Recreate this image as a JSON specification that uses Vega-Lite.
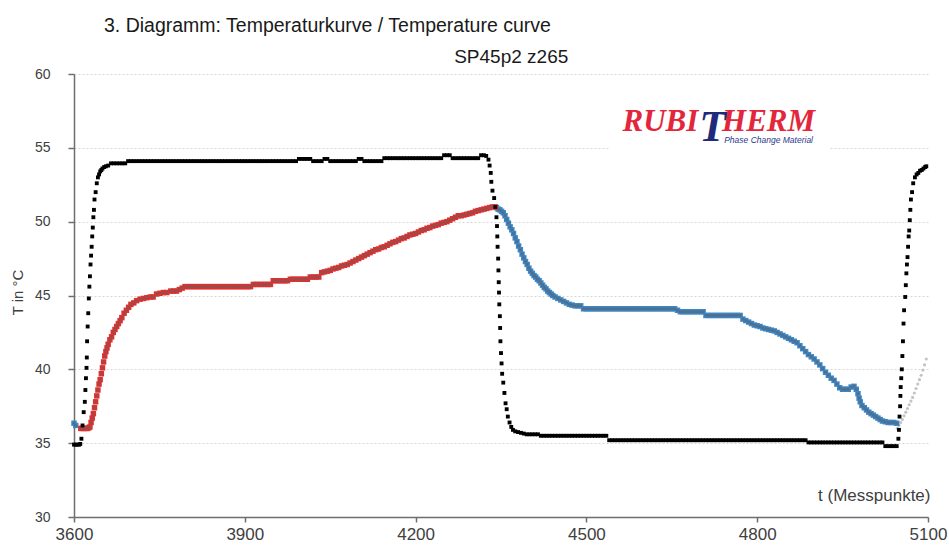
{
"$schema":"https://vega.github.io/schema/vega-lite/v6.json",
"width":854,"height":443,
"autosize":"none",
"padding":{"left":74,"top":74,"right":21,"bottom":29},
"background":"#ffffff",
"title":{"text":"3. Diagramm: Temperaturkurve / Temperature curve","anchor":"start","frame":"group","dx":30,"offset":12,"fontSize":19.5,"font":"Liberation Sans","fontWeight":"normal","color":"#1a1a1a"},
"config":{"view":{"stroke":null},
"axisX":{"format":"d","grid":false,"domainColor":"#6e6e6e","domainWidth":1.5,"tickColor":"#6e6e6e","tickWidth":1.5,"tickSize":5,"labelPadding":4,"labelFont":"Liberation Sans","labelFontSize":17,"labelFontWeight":"normal","labelColor":"#404040","labelFlush":false,"titleX":856,"titleY":-17,"titleAlign":"right","titleAnchor":"end","titleBaseline":"alphabetic","titleFont":"Liberation Sans","titleFontSize":17,"titleFontWeight":"normal","titleColor":"#404040"},
"axisY":{"grid":true,"gridColor":"#d6d6d6","gridDash":[2,2],"gridWidth":1,"domainColor":"#6e6e6e","domainWidth":1.5,"tickColor":"#6e6e6e","tickWidth":1.5,"tickSize":6,"labelPadding":18,"labelFont":"Liberation Sans","labelFontSize":14,"labelColor":"#404040","titleX":-57,"titleY":218,"titleAngle":-90,"titleAlign":"center","titleBaseline":"middle","titleFont":"Liberation Sans","titleFontSize":15,"titleFontWeight":"normal","titleColor":"#404040"}
},
"datasets":{
"black":[
{"t":3600,"v":34.9},{"t":3603,"v":34.9},{"t":3606,"v":34.9},{"t":3609,"v":34.9},{"t":3611,"v":34.95},{"t":3613,"v":35.3},{"t":3615,"v":36.2},{"t":3617,"v":37.1},{"t":3619,"v":37.8},{"t":3620,"v":38.6},{"t":3621,"v":39.4},{"t":3622,"v":40.1},{"t":3622.5,"v":40.8},{"t":3623,"v":41.9},{"t":3624,"v":42.9},{"t":3625,"v":43.8},{"t":3626,"v":44.8},{"t":3627,"v":45.6},{"t":3628,"v":46.3},{"t":3629,"v":47.1},{"t":3630,"v":47.7},{"t":3631,"v":48.3},{"t":3632,"v":49.0},{"t":3633,"v":49.6},{"t":3634,"v":50.3},{"t":3635,"v":50.8},{"t":3636,"v":51.5},{"t":3638,"v":52.0},{"t":3640,"v":52.6},{"t":3642,"v":53.0},{"t":3644,"v":53.2},{"t":3646,"v":53.4},{"t":3648,"v":53.5},{"t":3650,"v":53.6},{"t":3653,"v":53.7},{"t":3656,"v":53.75},{"t":3660,"v":53.8},
{"t":3665,"v":53.95},{"t":3670,"v":53.95},{"t":3675,"v":53.95},{"t":3680,"v":53.95},{"t":3685,"v":53.95},{"t":3690,"v":53.95},
{"t":3695,"v":54.1},{"t":3700,"v":54.1},{"t":3705,"v":54.1},{"t":3710,"v":54.1},{"t":3715,"v":54.1},{"t":3720,"v":54.1},{"t":3725,"v":54.1},{"t":3730,"v":54.1},{"t":3735,"v":54.1},{"t":3740,"v":54.1},{"t":3745,"v":54.1},{"t":3750,"v":54.1},{"t":3755,"v":54.1},{"t":3760,"v":54.1},{"t":3765,"v":54.1},{"t":3770,"v":54.1},{"t":3775,"v":54.1},{"t":3780,"v":54.1},{"t":3785,"v":54.1},{"t":3790,"v":54.1},{"t":3795,"v":54.1},{"t":3800,"v":54.1},{"t":3805,"v":54.1},{"t":3810,"v":54.1},{"t":3815,"v":54.1},{"t":3820,"v":54.1},{"t":3825,"v":54.1},{"t":3830,"v":54.1},{"t":3835,"v":54.1},{"t":3840,"v":54.1},{"t":3845,"v":54.1},{"t":3850,"v":54.1},{"t":3855,"v":54.1},{"t":3860,"v":54.1},{"t":3865,"v":54.1},{"t":3870,"v":54.1},{"t":3875,"v":54.1},{"t":3880,"v":54.1},{"t":3885,"v":54.1},{"t":3890,"v":54.1},{"t":3895,"v":54.1},{"t":3900,"v":54.1},{"t":3905,"v":54.1},{"t":3910,"v":54.1},{"t":3915,"v":54.1},{"t":3920,"v":54.1},{"t":3925,"v":54.1},{"t":3930,"v":54.1},{"t":3935,"v":54.1},{"t":3940,"v":54.1},{"t":3945,"v":54.1},{"t":3950,"v":54.1},{"t":3955,"v":54.1},{"t":3960,"v":54.1},{"t":3965,"v":54.1},{"t":3970,"v":54.1},{"t":3975,"v":54.1},{"t":3980,"v":54.1},{"t":3985,"v":54.1},{"t":3990,"v":54.1},
{"t":3995,"v":54.25},{"t":4000,"v":54.25},{"t":4005,"v":54.25},{"t":4010,"v":54.25},{"t":4015,"v":54.25},
{"t":4020,"v":54.1},{"t":4025,"v":54.1},{"t":4030,"v":54.1},{"t":4035,"v":54.1},
{"t":4040,"v":54.25},{"t":4045,"v":54.25},
{"t":4050,"v":54.1},{"t":4055,"v":54.1},{"t":4060,"v":54.1},{"t":4065,"v":54.1},{"t":4070,"v":54.1},{"t":4075,"v":54.1},{"t":4080,"v":54.1},{"t":4085,"v":54.1},{"t":4090,"v":54.1},{"t":4095,"v":54.1},
{"t":4100,"v":54.25},{"t":4105,"v":54.25},
{"t":4110,"v":54.1},{"t":4115,"v":54.1},{"t":4120,"v":54.1},{"t":4125,"v":54.1},{"t":4130,"v":54.1},{"t":4135,"v":54.1},{"t":4140,"v":54.1},
{"t":4145,"v":54.3},{"t":4150,"v":54.3},{"t":4155,"v":54.3},{"t":4160,"v":54.3},{"t":4165,"v":54.3},{"t":4170,"v":54.3},{"t":4175,"v":54.3},{"t":4180,"v":54.3},{"t":4185,"v":54.3},{"t":4190,"v":54.3},{"t":4195,"v":54.3},{"t":4200,"v":54.3},{"t":4205,"v":54.3},{"t":4210,"v":54.3},{"t":4215,"v":54.3},{"t":4220,"v":54.3},{"t":4225,"v":54.3},{"t":4230,"v":54.3},{"t":4235,"v":54.3},{"t":4240,"v":54.3},{"t":4245,"v":54.3},
{"t":4250,"v":54.5},{"t":4255,"v":54.5},{"t":4260,"v":54.5},
{"t":4265,"v":54.3},{"t":4270,"v":54.3},{"t":4275,"v":54.3},{"t":4280,"v":54.3},{"t":4285,"v":54.3},{"t":4290,"v":54.3},{"t":4295,"v":54.3},{"t":4300,"v":54.3},{"t":4305,"v":54.3},{"t":4310,"v":54.3},
{"t":4315,"v":54.5},{"t":4320,"v":54.5},{"t":4324,"v":54.45},
{"t":4328,"v":54.2},{"t":4330,"v":53.8},{"t":4332,"v":53.3},{"t":4333,"v":52.7},{"t":4335,"v":52.1},{"t":4338,"v":51.6},{"t":4340,"v":51.0},{"t":4342,"v":50.3},{"t":4343,"v":49.7},{"t":4343.5,"v":49.0},{"t":4344,"v":48.3},{"t":4345,"v":47.5},{"t":4345.5,"v":46.7},{"t":4346,"v":45.9},{"t":4346.5,"v":45.2},{"t":4347,"v":44.4},{"t":4348,"v":43.6},{"t":4348.5,"v":42.8},{"t":4349,"v":41.9},{"t":4350,"v":41.1},{"t":4351,"v":40.4},{"t":4352,"v":39.7},{"t":4354,"v":39.1},{"t":4356,"v":38.4},{"t":4358,"v":37.7},{"t":4360,"v":37.3},{"t":4362,"v":36.8},{"t":4365,"v":36.4},{"t":4368,"v":36.1},{"t":4371,"v":35.9},{"t":4375,"v":35.8},{"t":4380,"v":35.75},{"t":4385,"v":35.7},{"t":4390,"v":35.65},
{"t":4395,"v":35.6},{"t":4400,"v":35.6},{"t":4405,"v":35.6},{"t":4410,"v":35.6},{"t":4415,"v":35.6},
{"t":4420,"v":35.5},{"t":4425,"v":35.5},{"t":4430,"v":35.5},{"t":4435,"v":35.5},{"t":4440,"v":35.5},{"t":4445,"v":35.5},{"t":4450,"v":35.5},{"t":4455,"v":35.5},{"t":4460,"v":35.5},{"t":4465,"v":35.5},{"t":4470,"v":35.5},{"t":4475,"v":35.5},{"t":4480,"v":35.5},{"t":4485,"v":35.5},{"t":4490,"v":35.5},{"t":4495,"v":35.5},{"t":4500,"v":35.5},{"t":4505,"v":35.5},{"t":4510,"v":35.5},{"t":4515,"v":35.5},{"t":4520,"v":35.5},{"t":4525,"v":35.5},{"t":4530,"v":35.5},{"t":4535,"v":35.5},
{"t":4540,"v":35.2},{"t":4545,"v":35.2},{"t":4550,"v":35.2},{"t":4555,"v":35.2},{"t":4560,"v":35.2},{"t":4565,"v":35.2},{"t":4570,"v":35.2},{"t":4575,"v":35.2},{"t":4580,"v":35.2},{"t":4585,"v":35.2},{"t":4590,"v":35.2},{"t":4595,"v":35.2},{"t":4600,"v":35.2},{"t":4605,"v":35.2},{"t":4610,"v":35.2},{"t":4615,"v":35.2},{"t":4620,"v":35.2},{"t":4625,"v":35.2},{"t":4630,"v":35.2},{"t":4635,"v":35.2},{"t":4640,"v":35.2},{"t":4645,"v":35.2},{"t":4650,"v":35.2},{"t":4655,"v":35.2},{"t":4660,"v":35.2},{"t":4665,"v":35.2},{"t":4670,"v":35.2},{"t":4675,"v":35.2},{"t":4680,"v":35.2},{"t":4685,"v":35.2},{"t":4690,"v":35.2},{"t":4695,"v":35.2},{"t":4700,"v":35.2},{"t":4705,"v":35.2},{"t":4710,"v":35.2},{"t":4715,"v":35.2},{"t":4720,"v":35.2},{"t":4725,"v":35.2},{"t":4730,"v":35.2},{"t":4735,"v":35.2},{"t":4740,"v":35.2},{"t":4745,"v":35.2},{"t":4750,"v":35.2},{"t":4755,"v":35.2},{"t":4760,"v":35.2},{"t":4765,"v":35.2},{"t":4770,"v":35.2},{"t":4775,"v":35.2},{"t":4780,"v":35.2},{"t":4785,"v":35.2},{"t":4790,"v":35.2},{"t":4795,"v":35.2},{"t":4800,"v":35.2},{"t":4805,"v":35.2},{"t":4810,"v":35.2},{"t":4815,"v":35.2},{"t":4820,"v":35.2},{"t":4825,"v":35.2},{"t":4830,"v":35.2},{"t":4835,"v":35.2},{"t":4840,"v":35.2},{"t":4845,"v":35.2},{"t":4850,"v":35.2},{"t":4855,"v":35.2},{"t":4860,"v":35.2},{"t":4865,"v":35.2},{"t":4870,"v":35.2},{"t":4875,"v":35.2},{"t":4880,"v":35.2},{"t":4885,"v":35.2},
{"t":4890,"v":35.05},{"t":4895,"v":35.05},{"t":4900,"v":35.05},{"t":4905,"v":35.05},{"t":4910,"v":35.05},{"t":4915,"v":35.05},{"t":4920,"v":35.05},{"t":4925,"v":35.05},{"t":4930,"v":35.05},{"t":4935,"v":35.05},{"t":4940,"v":35.05},{"t":4945,"v":35.05},{"t":4950,"v":35.05},{"t":4955,"v":35.05},{"t":4960,"v":35.05},{"t":4965,"v":35.05},{"t":4970,"v":35.05},{"t":4975,"v":35.05},{"t":4980,"v":35.05},{"t":4985,"v":35.05},{"t":4990,"v":35.05},{"t":4995,"v":35.05},{"t":5000,"v":35.05},{"t":5005,"v":35.05},{"t":5010,"v":35.05},{"t":5015,"v":35.05},{"t":5020,"v":35.05},
{"t":5025,"v":34.8},{"t":5030,"v":34.8},{"t":5035,"v":34.8},{"t":5040,"v":34.8},{"t":5045,"v":34.8},
{"t":5048,"v":35.3},{"t":5049,"v":35.9},{"t":5050,"v":36.8},{"t":5051,"v":37.5},{"t":5051.5,"v":38.2},{"t":5052,"v":38.8},{"t":5053,"v":39.4},{"t":5054,"v":40.0},{"t":5055,"v":40.9},{"t":5056,"v":41.9},{"t":5057,"v":43.1},{"t":5058,"v":44.0},{"t":5060,"v":44.9},{"t":5061,"v":45.7},{"t":5062,"v":46.5},{"t":5063,"v":47.1},{"t":5064,"v":47.6},{"t":5065,"v":48.3},{"t":5066,"v":49.0},{"t":5067,"v":49.4},{"t":5068,"v":50.1},{"t":5069,"v":50.8},{"t":5070,"v":51.5},{"t":5072,"v":52.0},{"t":5074,"v":52.6},{"t":5077,"v":53.0},{"t":5080,"v":53.2},{"t":5083,"v":53.3},{"t":5086,"v":53.45},{"t":5089,"v":53.5},{"t":5092,"v":53.6},{"t":5095,"v":53.7},{"t":5097,"v":53.75}
],
"red":[
{"t":3612,"v":36.0},{"t":3615,"v":36.0},{"t":3618,"v":36.0},{"t":3621,"v":36.0},{"t":3624,"v":36.0},{"t":3626,"v":36.05},{"t":3628,"v":36.1},{"t":3630,"v":36.4},{"t":3632,"v":36.7},{"t":3634,"v":37.0},{"t":3636,"v":37.4},{"t":3638,"v":37.8},{"t":3640,"v":38.2},{"t":3642,"v":38.6},{"t":3644,"v":39.0},{"t":3646,"v":39.3},{"t":3648,"v":39.7},{"t":3650,"v":40.1},{"t":3652,"v":40.5},{"t":3654,"v":40.9},{"t":3656,"v":41.2},{"t":3658,"v":41.45},{"t":3660,"v":41.7},{"t":3663,"v":42.0},{"t":3666,"v":42.2},{"t":3669,"v":42.5},{"t":3672,"v":42.7},{"t":3675,"v":42.9},{"t":3678,"v":43.1},{"t":3681,"v":43.3},{"t":3684,"v":43.5},{"t":3688,"v":43.8},{"t":3692,"v":44.0},{"t":3696,"v":44.2},{"t":3700,"v":44.4},{"t":3705,"v":44.5},{"t":3710,"v":44.65},{"t":3716,"v":44.75},{"t":3722,"v":44.8},{"t":3728,"v":44.85},{"t":3734,"v":44.9},{"t":3739,"v":44.9},{"t":3745,"v":45.1},{"t":3751,"v":45.15},{"t":3757,"v":45.2},{"t":3763,"v":45.2},{"t":3770,"v":45.3},{"t":3775,"v":45.3},{"t":3780,"v":45.3},{"t":3785,"v":45.4},{"t":3790,"v":45.5},
{"t":3795,"v":45.6},{"t":3800,"v":45.6},{"t":3805,"v":45.6},{"t":3810,"v":45.6},{"t":3815,"v":45.6},{"t":3820,"v":45.6},{"t":3825,"v":45.6},{"t":3830,"v":45.6},{"t":3835,"v":45.6},{"t":3840,"v":45.6},{"t":3845,"v":45.6},{"t":3850,"v":45.6},{"t":3855,"v":45.6},{"t":3860,"v":45.6},{"t":3865,"v":45.6},{"t":3870,"v":45.6},{"t":3875,"v":45.6},{"t":3880,"v":45.6},{"t":3885,"v":45.6},{"t":3890,"v":45.6},{"t":3895,"v":45.6},{"t":3900,"v":45.6},{"t":3905,"v":45.6},{"t":3910,"v":45.6},
{"t":3915,"v":45.75},{"t":3920,"v":45.75},{"t":3925,"v":45.75},{"t":3930,"v":45.75},{"t":3935,"v":45.75},{"t":3940,"v":45.75},{"t":3945,"v":45.75},
{"t":3950,"v":46.0},{"t":3955,"v":46.0},{"t":3960,"v":46.0},{"t":3965,"v":46.0},{"t":3970,"v":46.0},{"t":3975,"v":46.0},
{"t":3980,"v":46.1},{"t":3985,"v":46.1},{"t":3990,"v":46.1},{"t":3995,"v":46.1},{"t":4000,"v":46.1},{"t":4005,"v":46.1},{"t":4010,"v":46.1},
{"t":4015,"v":46.25},{"t":4020,"v":46.25},{"t":4025,"v":46.25},{"t":4030,"v":46.25},
{"t":4035,"v":46.55},{"t":4040,"v":46.6},{"t":4045,"v":46.65},{"t":4050,"v":46.7},{"t":4055,"v":46.8},{"t":4060,"v":46.85},{"t":4065,"v":46.9},{"t":4070,"v":47.0},{"t":4075,"v":47.05},{"t":4080,"v":47.1},{"t":4085,"v":47.2},{"t":4090,"v":47.3},{"t":4095,"v":47.4},{"t":4100,"v":47.5},{"t":4105,"v":47.6},{"t":4110,"v":47.7},{"t":4115,"v":47.8},{"t":4120,"v":47.9},{"t":4125,"v":48.0},{"t":4130,"v":48.1},{"t":4135,"v":48.15},{"t":4140,"v":48.25},{"t":4145,"v":48.3},{"t":4150,"v":48.4},{"t":4155,"v":48.5},{"t":4160,"v":48.6},{"t":4165,"v":48.65},{"t":4170,"v":48.75},{"t":4175,"v":48.85},{"t":4180,"v":48.9},{"t":4185,"v":49.0},{"t":4190,"v":49.1},{"t":4195,"v":49.15},{"t":4200,"v":49.2},{"t":4205,"v":49.3},{"t":4210,"v":49.4},{"t":4215,"v":49.45},{"t":4220,"v":49.55},{"t":4225,"v":49.6},{"t":4230,"v":49.7},{"t":4235,"v":49.75},{"t":4240,"v":49.8},{"t":4245,"v":49.9},{"t":4250,"v":49.95},{"t":4255,"v":50.0},{"t":4260,"v":50.1},{"t":4265,"v":50.2},{"t":4270,"v":50.3},{"t":4275,"v":50.4},{"t":4280,"v":50.4},{"t":4285,"v":50.45},{"t":4290,"v":50.5},{"t":4295,"v":50.55},{"t":4300,"v":50.6},{"t":4305,"v":50.7},{"t":4310,"v":50.75},{"t":4315,"v":50.8},{"t":4320,"v":50.85},{"t":4325,"v":50.9},{"t":4330,"v":50.95},{"t":4335,"v":51.0},{"t":4340,"v":51.0}
],
"blue":[
{"t":3600,"v":36.35},{"t":3603,"v":36.2},
{"t":4342,"v":50.95},{"t":4345,"v":50.85},{"t":4348,"v":50.8},{"t":4351,"v":50.7},{"t":4354,"v":50.6},{"t":4357,"v":50.4},{"t":4360,"v":50.15},{"t":4363,"v":49.9},{"t":4366,"v":49.65},{"t":4369,"v":49.45},{"t":4372,"v":49.2},{"t":4375,"v":48.9},{"t":4378,"v":48.65},{"t":4381,"v":48.35},{"t":4384,"v":48.1},{"t":4387,"v":47.8},{"t":4390,"v":47.55},{"t":4393,"v":47.3},{"t":4396,"v":47.1},{"t":4399,"v":46.85},{"t":4402,"v":46.65},{"t":4405,"v":46.5},{"t":4408,"v":46.35},{"t":4411,"v":46.25},{"t":4414,"v":46.1},{"t":4417,"v":46.0},{"t":4420,"v":45.85},{"t":4423,"v":45.7},{"t":4426,"v":45.55},{"t":4429,"v":45.45},{"t":4432,"v":45.3},{"t":4435,"v":45.2},{"t":4438,"v":45.1},{"t":4441,"v":45.0},{"t":4445,"v":44.9},{"t":4450,"v":44.8},{"t":4455,"v":44.7},{"t":4460,"v":44.6},{"t":4465,"v":44.5},{"t":4470,"v":44.4},{"t":4475,"v":44.35},{"t":4480,"v":44.3},{"t":4485,"v":44.3},{"t":4490,"v":44.3},{"t":4495,"v":44.1},
{"t":4500,"v":44.1},{"t":4505,"v":44.1},{"t":4510,"v":44.1},{"t":4515,"v":44.1},{"t":4520,"v":44.1},{"t":4525,"v":44.1},{"t":4530,"v":44.1},{"t":4535,"v":44.1},{"t":4540,"v":44.1},{"t":4545,"v":44.1},{"t":4550,"v":44.1},{"t":4555,"v":44.1},{"t":4560,"v":44.1},{"t":4565,"v":44.1},{"t":4570,"v":44.1},{"t":4575,"v":44.1},{"t":4580,"v":44.1},{"t":4585,"v":44.1},{"t":4590,"v":44.1},{"t":4595,"v":44.1},{"t":4600,"v":44.1},{"t":4605,"v":44.1},{"t":4610,"v":44.1},{"t":4615,"v":44.1},{"t":4620,"v":44.1},{"t":4625,"v":44.1},{"t":4630,"v":44.1},{"t":4635,"v":44.1},{"t":4640,"v":44.1},{"t":4645,"v":44.1},{"t":4650,"v":44.1},{"t":4655,"v":44.1},
{"t":4660,"v":44.0},
{"t":4665,"v":43.9},{"t":4670,"v":43.9},{"t":4675,"v":43.9},{"t":4680,"v":43.9},{"t":4685,"v":43.9},{"t":4690,"v":43.9},{"t":4695,"v":43.9},{"t":4700,"v":43.9},{"t":4705,"v":43.9},
{"t":4710,"v":43.65},{"t":4715,"v":43.65},{"t":4720,"v":43.65},{"t":4725,"v":43.65},{"t":4730,"v":43.65},{"t":4735,"v":43.65},{"t":4740,"v":43.65},{"t":4745,"v":43.65},{"t":4750,"v":43.65},{"t":4755,"v":43.65},{"t":4760,"v":43.65},{"t":4765,"v":43.65},{"t":4770,"v":43.65},
{"t":4775,"v":43.4},{"t":4780,"v":43.3},{"t":4785,"v":43.2},{"t":4790,"v":43.1},{"t":4795,"v":43.0},{"t":4800,"v":42.95},{"t":4805,"v":42.9},{"t":4810,"v":42.8},{"t":4815,"v":42.75},{"t":4820,"v":42.7},{"t":4825,"v":42.65},{"t":4830,"v":42.6},{"t":4835,"v":42.5},{"t":4840,"v":42.4},{"t":4845,"v":42.3},{"t":4850,"v":42.2},{"t":4855,"v":42.1},{"t":4860,"v":42.0},{"t":4865,"v":41.9},{"t":4870,"v":41.8},{"t":4875,"v":41.6},{"t":4880,"v":41.4},{"t":4885,"v":41.2},{"t":4890,"v":41.0},{"t":4895,"v":40.85},{"t":4900,"v":40.7},{"t":4905,"v":40.5},{"t":4910,"v":40.3},{"t":4915,"v":40.05},{"t":4920,"v":39.8},{"t":4925,"v":39.6},{"t":4930,"v":39.4},{"t":4935,"v":39.25},{"t":4940,"v":39.0},{"t":4945,"v":38.75},{"t":4950,"v":38.65},{"t":4955,"v":38.65},{"t":4960,"v":38.65},{"t":4965,"v":38.8},{"t":4970,"v":38.85},{"t":4974,"v":38.65},{"t":4977,"v":38.35},{"t":4979,"v":38.05},{"t":4981,"v":37.8},{"t":4984,"v":37.55},{"t":4988,"v":37.4},{"t":4992,"v":37.25},{"t":4996,"v":37.1},{"t":5000,"v":37.0},{"t":5004,"v":36.9},{"t":5008,"v":36.8},{"t":5012,"v":36.7},{"t":5016,"v":36.6},{"t":5020,"v":36.5},{"t":5025,"v":36.45},{"t":5030,"v":36.4},{"t":5035,"v":36.4},{"t":5040,"v":36.4},{"t":5045,"v":36.35}
],
"grey":[
{"t":5046,"v":36.0},{"t":5049,"v":36.2},{"t":5052,"v":36.4},{"t":5055,"v":36.6},{"t":5058,"v":36.85},{"t":5061,"v":37.1},{"t":5064,"v":37.35},{"t":5067,"v":37.6},{"t":5070,"v":37.85},{"t":5073,"v":38.1},{"t":5076,"v":38.4},{"t":5079,"v":38.7},{"t":5082,"v":39.0},{"t":5085,"v":39.3},{"t":5088,"v":39.6},{"t":5091,"v":39.95},{"t":5094,"v":40.3},{"t":5097,"v":40.7}
],
"notes":[
{"label":"SP45p2 z265"}
]
},
"layer":[
{"data":{"name":"notes"},"mark":{"type":"rect","color":"#ffffff"},
 "encoding":{"x":{"datum":4541,"type":"quantitative","scale":{"domain":[3600,5100],"nice":false,"zero":false},"title":"t (Messpunkte)","axis":{"values":[3600,3900,4200,4500,4800,5100]}},"x2":{"datum":4928},"y":{"datum":54.85,"type":"quantitative","scale":{"domain":[30,60],"nice":false,"zero":false},"title":"T in °C","axis":{"values":[30,35,40,45,50,55,60]}},"y2":{"datum":58.9}}},
{"encoding":{
"x":{"field":"t","type":"quantitative","scale":{"domain":[3600,5100],"nice":false,"zero":false},"title":"t (Messpunkte)","axis":{"values":[3600,3900,4200,4500,4800,5100]}},
"y":{"field":"v","type":"quantitative","scale":{"domain":[30,60],"nice":false,"zero":false},"title":"T in °C","axis":{"values":[30,35,40,45,50,55,60]}}
},
"layer":[
{"data":{"name":"grey"},"mark":{"type":"point","shape":"circle","filled":true,"size":10,"color":"#c4c4c4","opacity":1}},
{"data":{"name":"blue"},"mark":{"type":"point","shape":"square","filled":true,"size":30,"color":"#3d87c6","opacity":1}},
{"data":{"name":"blue"},"mark":{"type":"point","shape":"square","filled":true,"size":8,"color":"#4d7090","opacity":1}},
{"data":{"name":"red"},"mark":{"type":"point","shape":"square","filled":true,"size":30,"color":"#e03030","opacity":1}},
{"data":{"name":"red"},"mark":{"type":"point","shape":"square","filled":true,"size":8,"color":"#9e4a48","opacity":1}},
{"data":{"name":"black"},"mark":{"type":"point","shape":"square","filled":true,"size":15,"color":"#000000","opacity":1}}
]},
{"data":{"name":"notes"},"mark":{"type":"text","font":"Liberation Sans","fontSize":19,"color":"#1a1a1a","align":"center","baseline":"alphabetic","clip":false},
 "encoding":{"x":{"datum":4368,"type":"quantitative","scale":{"domain":[3600,5100],"nice":false,"zero":false},"title":"t (Messpunkte)","axis":{"values":[3600,3900,4200,4500,4800,5100]}},"y":{"datum":60.74,"type":"quantitative","scale":{"domain":[30,60],"nice":false,"zero":false},"title":"T in °C","axis":{"values":[30,35,40,45,50,55,60]}},"text":{"field":"label"}}},
{"data":{"name":"notes"},"mark":{"type":"text","font":"Liberation Serif","fontStyle":"italic","fontWeight":"bold","fontSize":31,"color":"#e3263c","align":"center","baseline":"alphabetic"},
 "encoding":{"x":{"datum":4630,"type":"quantitative","scale":{"domain":[3600,5100],"nice":false,"zero":false},"title":"t (Messpunkte)","axis":{"values":[3600,3900,4200,4500,4800,5100]}},"y":{"datum":56.14,"type":"quantitative","scale":{"domain":[30,60],"nice":false,"zero":false},"title":"T in °C","axis":{"values":[30,35,40,45,50,55,60]}},"text":{"value":"RUBI"}}},
{"data":{"name":"notes"},"mark":{"type":"text","font":"Liberation Serif","fontStyle":"italic","fontWeight":"bold","fontSize":44,"color":"#1f2a7a","align":"center","baseline":"alphabetic"},
 "encoding":{"x":{"datum":4722,"type":"quantitative","scale":{"domain":[3600,5100],"nice":false,"zero":false},"title":"t (Messpunkte)","axis":{"values":[3600,3900,4200,4500,4800,5100]}},"y":{"datum":55.45,"type":"quantitative","scale":{"domain":[30,60],"nice":false,"zero":false},"title":"T in °C","axis":{"values":[30,35,40,45,50,55,60]}},"text":{"value":"T"}}},
{"data":{"name":"notes"},"mark":{"type":"text","font":"Liberation Serif","fontStyle":"italic","fontWeight":"bold","fontSize":31,"color":"#e3263c","align":"center","baseline":"alphabetic"},
 "encoding":{"x":{"datum":4820,"type":"quantitative","scale":{"domain":[3600,5100],"nice":false,"zero":false},"title":"t (Messpunkte)","axis":{"values":[3600,3900,4200,4500,4800,5100]}},"y":{"datum":56.14,"type":"quantitative","scale":{"domain":[30,60],"nice":false,"zero":false},"title":"T in °C","axis":{"values":[30,35,40,45,50,55,60]}},"text":{"value":"HERM"}}},
{"data":{"name":"notes"},"mark":{"type":"text","font":"Liberation Sans","fontStyle":"italic","fontSize":8.5,"color":"#2b3990","align":"center","baseline":"alphabetic"},
 "encoding":{"x":{"datum":4820,"type":"quantitative","scale":{"domain":[3600,5100],"nice":false,"zero":false},"title":"t (Messpunkte)","axis":{"values":[3600,3900,4200,4500,4800,5100]}},"y":{"datum":55.3,"type":"quantitative","scale":{"domain":[30,60],"nice":false,"zero":false},"title":"T in °C","axis":{"values":[30,35,40,45,50,55,60]}},"text":{"value":"Phase Change Material"}}}
]
}
